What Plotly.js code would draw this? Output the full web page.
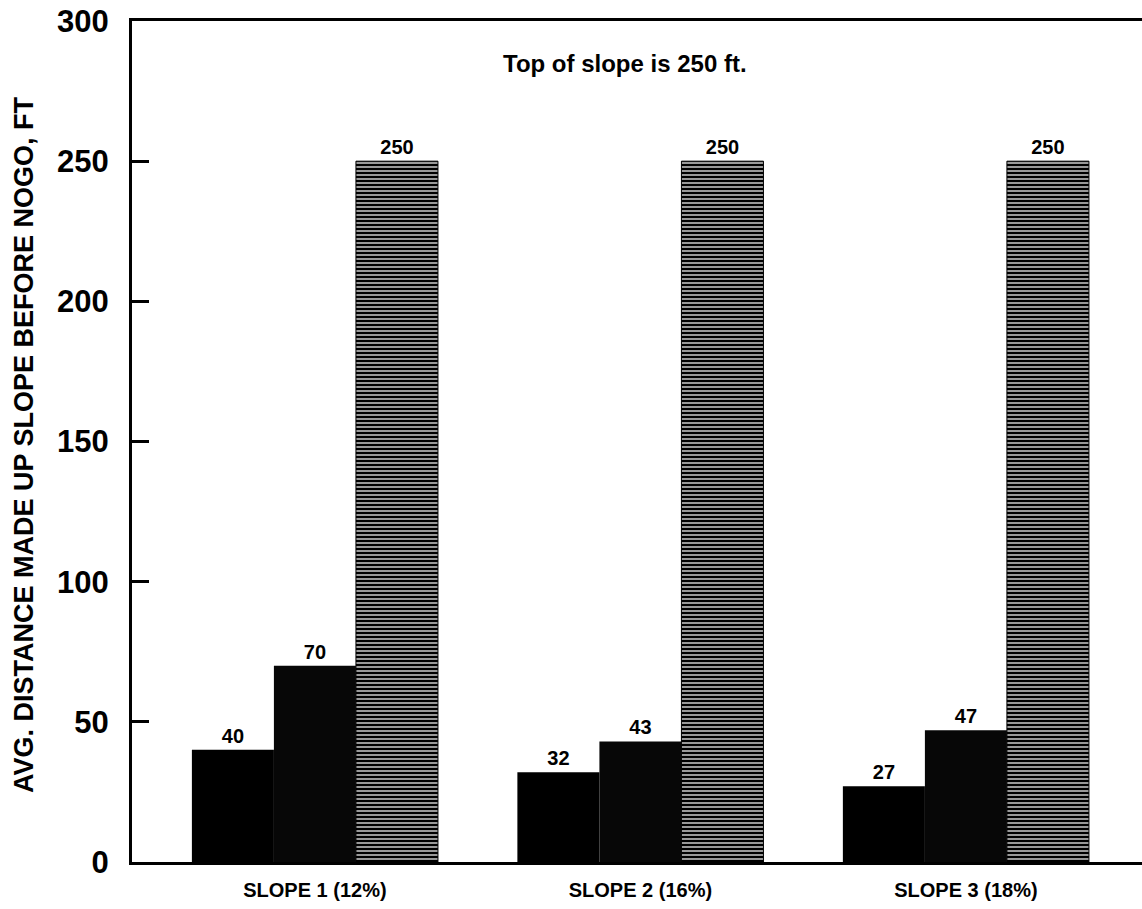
<!DOCTYPE html>
<html>
<head>
<meta charset="utf-8">
<script src="https://cdn.plot.ly/plotly-3.0.1.min.js"></script>
<style>html,body{margin:0;padding:0;background:#fff;overflow:hidden}</style>
</head>
<body>
<div id="chart" style="width:1142px;height:909px"></div>
<script>
const categories = ["SLOPE 1 (12%)", "SLOPE 2 (16%)", "SLOPE 3 (18%)"];
const series1 = [40, 32, 27];
const series2 = [70, 43, 47];
const series3 = [250, 250, 250];
const yTicks = [0, 50, 100, 150, 200, 250, 300];
const noteText = "Top of slope is 250 ft.";
const yTitle = "AVG. DISTANCE MADE UP SLOPE BEFORE NOGO, FT";

const FONT = "Liberation Sans, Arial, sans-serif";
const labelFont = {family: FONT, size: 20, color: "#000", weight: 700};

function bar(name, vals, marker) {
  return {
    type: "bar", name: name, x: categories, y: vals,
    text: vals.map(String), textposition: "outside", cliponaxis: false,
    textfont: labelFont, marker: marker, hoverinfo: "skip"
  };
}

const traces = [
  bar("Series 1", series1, {color: "#000", line: {width: 0}}),
  bar("Series 2", series2, {color: "#070707", line: {width: 0}}),
  bar("Series 3", series3, {color: "#000", line: {color: "#000", width: 1},
    pattern: {shape: "-", bgcolor: "#000000", fgcolor: "#ffffff", size: 4, solidity: 0.3, fillmode: "replace"}})
];

const layout = {
  width: 1142, height: 909,
  margin: {l: 132, r: 0, t: 21, b: 47},
  paper_bgcolor: "#fff", plot_bgcolor: "#fff",
  showlegend: false,
  barmode: "group", bargap: 0.244, bargroupgap: 0,
  font: {family: FONT, color: "#000"},
  xaxis: {
    type: "category", range: [-0.562, 2.541],
    showline: true, linecolor: "#000", linewidth: 3, mirror: true,
    ticks: "", showgrid: false, zeroline: false,
    ticklabelstandoff: 8,
    tickfont: {family: FONT, size: 20, weight: 700, color: "#000"}
  },
  yaxis: {
    range: [0, 300], tickvals: yTicks, ticktext: yTicks.map(String),
    showline: true, linecolor: "#000", linewidth: 3,
    ticks: "inside", ticklen: 17, tickwidth: 3, tickcolor: "#000",
    ticklabelstandoff: 14,
    showgrid: false, zeroline: false,
    tickfont: {family: FONT, size: 31, weight: 700, color: "#000"}
  },
  annotations: [{
    text: noteText, xref: "paper", yref: "paper",
    x: (625 - 132) / 1010, y: 1 - (63 - 21) / 841,
    xanchor: "center", yanchor: "middle", showarrow: false,
    font: {family: FONT, size: 24, weight: 700, color: "#000"}
  }, {
    text: yTitle, xref: "paper", yref: "paper", textangle: -90,
    x: (24 - 132) / 1010, y: 1 - (445 - 21) / 841,
    xanchor: "center", yanchor: "middle", showarrow: false,
    font: {family: FONT, size: 27, weight: 700, color: "#000"}
  }]
};

Plotly.newPlot("chart", traces, layout, {displayModeBar: false, staticPlot: true});
</script>
</body>
</html>
